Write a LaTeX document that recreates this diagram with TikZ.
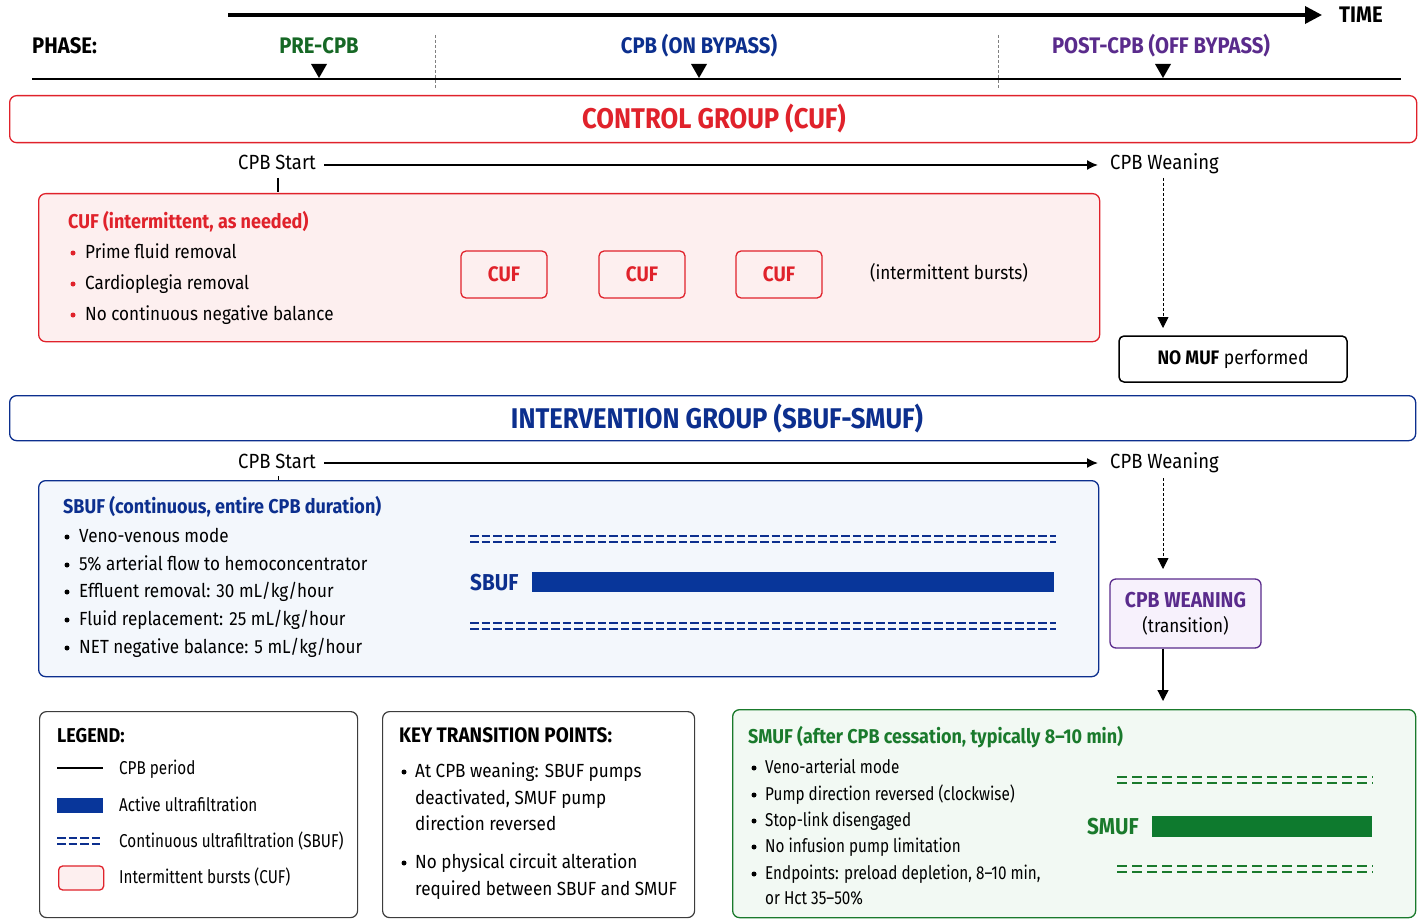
\documentclass[tikz,border=0pt]{standalone}
\usepackage{fontspec}
\setmainfont{Fira Sans}[FakeStretch=0.9]
\newfontfamily\narrowfont{Fira Sans}[FakeStretch=0.82]
\usetikzlibrary{arrows.meta}

\definecolor{cred}{HTML}{E0222B}
\definecolor{credfill}{HTML}{FDEFEF}
\definecolor{cblue}{HTML}{0C2F8E}
\definecolor{cbar}{HTML}{08369A}
\definecolor{cbluefill}{HTML}{F3F7FC}
\definecolor{cgreen}{HTML}{1A7A2C}
\definecolor{cgbar}{HTML}{0E7A2E}
\definecolor{cgreenfill}{HTML}{F2F9F3}
\definecolor{cpurple}{HTML}{5A2B8C}
\definecolor{cpurplefill}{HTML}{F7F1FC}
\definecolor{cgray}{HTML}{3C3C3C}

\newcommand\tsz[2]{\fontsize{#1}{#2}\selectfont}

\tikzset{
  txt/.style={inner sep=0pt, font=\tsz{19}{23}, yshift=-6.6pt},
  txtsm/.style={inner sep=0pt, font=\narrowfont\tsz{18.6}{22}, yshift=-6.4pt},
  eventlbl/.style={inner sep=0pt, font=\tsz{20.5}{24}, yshift=-7pt},
  phase/.style={inner sep=0pt, font=\tsz{22.5}{27}\bfseries, yshift=-7.8pt},
  grouptitle/.style={inner sep=0pt, font=\tsz{28.5}{34}\bfseries, yshift=-9.9pt},
  boxhead/.style={inner sep=0pt, font=\tsz{20}{24}\bfseries, yshift=-7pt},
  panel/.style={draw, rounded corners=7pt, line width=1.3pt, inner sep=0pt, anchor=north west},
  dot/.style={circle, fill, inner sep=0pt, minimum size=5pt},
  cufbox/.style={draw=cred, fill=credfill, rounded corners=5pt, line width=1.3pt,
    minimum width=86pt, minimum height=47pt, inner sep=0pt, text=cred, font=\tsz{21}{25}\bfseries},
  tl/.style={line width=1.6pt, -{Latex[length=11pt,width=10pt]}},
  dashdbl/.style={line width=2.2pt, dash pattern=on 8.6pt off 3pt},
  dashdblg/.style={line width=2.2pt, dash pattern=on 10pt off 5pt},
  dropline/.style={densely dashed, line width=0.8pt, -{Triangle[length=11pt,width=11pt]}},
}

% two parallel dashed rules centred on a y value
\newcommand\dblrule[4]{%
  \draw[#1] (#2,#4-2.9) -- (#3,#4-2.9);
  \draw[#1] (#2,#4+2.9) -- (#3,#4+2.9);}

\begin{document}
\begin{tikzpicture}[x=1pt,y=-1pt]
\useasboundingbox[fill=white] (0,0) rectangle (1423,920);

% ---------------- time axis and phases ----------------
\node[phase, anchor=base west] (timelbl) at (1339,15) {TIME};
\coordinate (t0) at (228,15);
\draw[line width=3.5pt, -{Triangle[length=17pt,width=17pt]}] (t0) -- (1322,15) coordinate (t1);

\node[phase, anchor=base west] (phaselbl) at (32,46) {PHASE:};
\node[phase, anchor=base, text=cgreen!85!black] (pre) at (319,46) {PRE-CPB};
\node[phase, anchor=base, text=cblue] (onb) at (699,46) {CPB (ON BYPASS)};
\node[phase, anchor=base, text=cpurple] (post) at (1161,46) {POST-CPB (OFF BYPASS)};

\coordinate (axL) at (32,79);
\coordinate (axR) at (1401,79);
\draw[line width=1.5pt] (axL) -- (axR);
\foreach \xx in {319, 699, 1163}{
  \fill (\xx-8,64) -- (\xx+8,64) -- (\xx,78) -- cycle;
}
\draw[densely dashed, line width=0.6pt, gray] (435,35) -- (435,88);
\draw[densely dashed, line width=0.6pt, gray] (998,35) -- (998,88);

% ---------------- control group ----------------
\node[panel, draw=cred, minimum width=1407pt, minimum height=47pt] (ctrl) at (9,95) {};
\node[grouptitle, text=cred, anchor=base] (ctrltitle) at (714,119) {CONTROL GROUP (CUF)};

\node[eventlbl, anchor=base west] (cstart) at (238,163) {CPB Start};
\node[eventlbl, anchor=base west] (cwean) at (1110,163) {CPB Weaning};
\coordinate (cs1) at (324,165);
\coordinate (cw1) at (1098,165);
\draw[tl] (cs1) -- (cw1);
\draw[line width=1.3pt] (278,178) -- (278,192);

\node[panel, draw=cred, fill=credfill, minimum width=1061pt, minimum height=148pt] (cufpanel) at (38,193) {};
\node[boxhead, anchor=base west, text=cred] (cufhead) at (68,221) {CUF (intermittent, as needed)};
\foreach \yy/\tx [count=\i] in {252/Prime fluid removal, 283/Cardioplegia removal, 314/No continuous negative balance}{
  \node[dot, fill=cred] (cb\i) at (73,\yy+1) {};
  \node[txt, anchor=base west] (ct\i) at (85,\yy) {\tx};
}
\node[cufbox] (cuf1) at (504,274.5) {CUF};
\node[cufbox] (cuf2) at (642,274.5) {CUF};
\node[cufbox] (cuf3) at (779,274.5) {CUF};
\node[txt, anchor=base] (bursts) at (949,273) {(intermittent bursts)};

\node[draw=black, rounded corners=5pt, line width=1.5pt, minimum width=228pt, minimum height=46pt,
  inner sep=0pt, font=\tsz{19.5}{23}] (nomuf) at (1233,359) {\textbf{NO MUF} performed};
\coordinate (cwd) at (1163,178);
\draw[dropline] (cwd) -- (1163,328);

% ---------------- intervention group ----------------
\node[panel, draw=cblue, minimum width=1406pt, minimum height=45pt] (intv) at (9,395) {};
\node[grouptitle, text=cblue, anchor=base] (intvtitle) at (717,419) {INTERVENTION GROUP (SBUF-SMUF)};

\node[eventlbl, anchor=base west] (istart) at (238,461) {CPB Start};
\node[eventlbl, anchor=base west] (iwean) at (1110,461) {CPB Weaning};
\coordinate (is1) at (324,463);
\coordinate (iw1) at (1098,463);
\draw[tl] (is1) -- (iw1);
\draw[line width=1pt] (278,476) -- (278,480);

\node[panel, draw=cblue, fill=cbluefill, minimum width=1060pt, minimum height=196pt] (sbufpanel) at (38,480) {};
\node[boxhead, anchor=base west, text=cblue] (sbufhead) at (63,506) {SBUF (continuous, entire CPB duration)};
\foreach \yy/\tx [count=\i] in {536/{Veno-venous mode}, 564/{5\% arterial flow to hemoconcentrator},
    591/{Effluent removal: 30 mL/kg/hour}, 619/{Fluid replacement: 25 mL/kg/hour},
    647/{NET negative balance: 5 mL/kg/hour}}{
  \node[dot] (sb\i) at (67,\yy+1) {};
  \node[txt, anchor=base west] (st\i) at (79,\yy) {\tx};
}
\dblrule{dashdbl, cblue}{470}{1056}{539}
\dblrule{dashdbl, cblue}{470}{1056}{626}
\node[inner sep=0pt, font=\tsz{23}{27}\bfseries, text=cblue, anchor=base west, yshift=-8pt] (sbuflbl) at (470,582) {SBUF};
\node[fill=cbar, inner sep=0pt, minimum width=522pt, minimum height=20pt, anchor=west] (sbufbar) at (532,582) {};

\node[draw=cpurple, fill=cpurplefill, rounded corners=6pt, line width=1.3pt, minimum width=151pt,
  minimum height=69pt, inner sep=0pt, align=center] (wbox) at (1185.5,613.5)
  {\tsz{21.5}{25}\bfseries\color{cpurple}CPB WEANING\\[8pt]\tsz{19}{23}\mdseries (transition)};
\coordinate (iwd) at (1163,478);
\draw[dropline] (iwd) -- (1163,569);

% ---------------- legend ----------------
\node[panel, draw=cgray, fill=white, line width=1.2pt, minimum width=318pt, minimum height=206pt] (legend) at (39,711) {};
\node[boxhead, anchor=base west] (leghead) at (57,735) {LEGEND:};
\coordinate (lg1a) at (57,768); \coordinate (lg1b) at (103,768);
\draw[line width=1.8pt] (lg1a) -- (lg1b);
\node[fill=cbar, inner sep=0pt, minimum width=46pt, minimum height=15pt, anchor=west] (lg2) at (57,805) {};
\dblrule{dashdbl, cblue}{57}{103}{841}
\node[draw=cred, fill=credfill, rounded corners=4pt, line width=1.3pt, inner sep=0pt,
  minimum width=45pt, minimum height=24pt, anchor=west] (lg4) at (58,878) {};
\foreach \yy/\tx [count=\i] in {768/CPB period, 805/Active ultrafiltration,
    841/Continuous ultrafiltration (SBUF), 877/Intermittent bursts (CUF)}{
  \node[txtsm, anchor=base west] (lt\i) at (119,\yy) {\tx};
}

% ---------------- key transition points ----------------
\node[panel, draw=cgray, fill=white, line width=1.2pt, minimum width=312pt, minimum height=206pt] (keybox) at (382,711) {};
\node[boxhead, anchor=base west, font=\tsz{21}{25}\bfseries] (keyhead) at (399,735) {KEY TRANSITION POINTS:};
\node[dot] (kb1) at (404,772) {};
\node[dot] (kb2) at (404,863) {};
\foreach \yy/\tx [count=\i] in {771/At CPB weaning: SBUF pumps, 798/{deactivated, SMUF pump},
    824/direction reversed, 862/No physical circuit alteration, 889/required between SBUF and SMUF}{
  \node[txt, anchor=base west] (kt\i) at (415,\yy) {\tx};
}

% ---------------- SMUF panel ----------------
\node[panel, draw=cgreen, fill=cgreenfill, minimum width=683pt, minimum height=208pt] (smufpanel) at (732,709) {};
\node[boxhead, anchor=base west, text=cgreen] (smufhead) at (748,736) {SMUF (after CPB cessation, typically 8–10 min)};
\foreach \yy/\tx [count=\i] in {767/Veno-arterial mode, 794/Pump direction reversed (clockwise),
    820/Stop-link disengaged, 846/No infusion pump limitation, 873/{Endpoints: preload depletion, 8–10 min,}}{
  \node[dot] (mb\i) at (754,\yy+1) {};
  \node[txtsm, anchor=base west] (mt\i) at (765,\yy) {\tx};
}
\node[txtsm, anchor=base west] (mt6) at (765,898) {or Hct 35–50\%};
\dblrule{dashdblg, cgreen}{1117}{1373}{780}
\dblrule{dashdblg, cgreen}{1117}{1373}{869}
\node[inner sep=0pt, font=\tsz{23}{27}\bfseries, text=cgreen, anchor=base west, yshift=-8pt] (smuflbl) at (1087,826) {SMUF};
\node[fill=cgbar, inner sep=0pt, minimum width=220pt, minimum height=21pt, anchor=west] (smufbar) at (1152,826) {};

% transition arrow from the weaning step into the SMUF phase
\coordinate (smufin) at (1163,701);
\draw[line width=1.3pt, -{Triangle[length=11pt,width=11pt]}] (wbox.south -| smufin) -- (smufin);
\end{tikzpicture}
\end{document}
